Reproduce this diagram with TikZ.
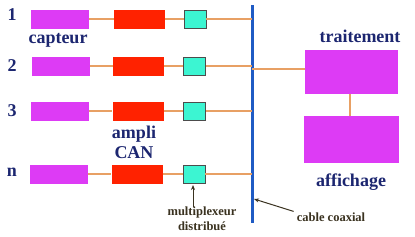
\documentclass[tikz,border=0pt]{standalone}
\usepackage{fontspec}
\setmainfont{Liberation Serif}
\usetikzlibrary{arrows.meta}
\definecolor{cpurple}{HTML}{DD3BF5}
\definecolor{cred}{HTML}{FF2200}
\definecolor{ccyan}{HTML}{3CF5D2}
\definecolor{cline}{HTML}{E8A064}
\definecolor{ccable}{HTML}{1F5BC4}
\definecolor{cnavy}{HTML}{1C2670}
\definecolor{cbrown}{HTML}{3A3220}
\tikzset{
  capt/.style={fill=cpurple,draw=none,minimum width=58pt,minimum height=19pt,inner sep=0pt},
  amp/.style={fill=cred,draw=none,minimum width=51pt,minimum height=19pt,inner sep=0pt},
  mux/.style={fill=ccyan,draw=black!70,line width=0.6pt,minimum width=22pt,minimum height=18pt,inner sep=0pt},
  big/.style={fill=cpurple,draw=none,minimum width=93pt,inner sep=0pt},
  wire/.style={draw=cline,line width=1.3pt},
  lab/.style={text=cnavy,font=\fontsize{18}{19}\selectfont\bfseries,inner sep=0pt},
  slab/.style={text=cbrown,font=\fontsize{12.5}{15}\selectfont\bfseries,inner sep=0pt,align=center},
  ptr/.style={draw=cbrown,line width=1pt,-{Stealth[length=5pt,width=4pt]}}
}
\begin{document}
\begin{tikzpicture}[x=1pt,y=-1pt]
\useasboundingbox[fill=white] (0,0) rectangle (415,236);
% cable
\coordinate (ct) at (252,5);
\coordinate (cb) at (252,223);
\draw[ccable,line width=3pt] (ct) -- (cb);
% rows
\foreach \i/\y/\px/\rx/\mx in {1/19/60/139.5/195, 2/66/61/138.5/194.5, 3/111/60/138/194.5, 4/174/58.5/137/194}{
  \node[capt] (p\i) at (\px,\y) {};
  \node[amp] (r\i) at (\rx,\y) {};
  \node[mux] (m\i) at (\mx,\y) {};
  \coordinate (k\i) at (252,\y);
  \draw[wire] (p\i.east) -- (r\i.west);
  \draw[wire] (r\i.east) -- (m\i.west);
  \draw[wire] (m\i.east) -- (k\i);
}
% right boxes
\node[big,minimum height=44pt] (tr) at (351.5,72) {};
\node[big,minimum height=47pt,minimum width=95pt] (af) at (351.5,139.5) {};
\coordinate (k0) at (252,69);
\draw[wire] (k0) -- (tr.west|-k0);
\draw[wire] (tr.south-|350,0) -- (af.north-|350,0);
% labels
\node[lab] (l1) at (12,15) {1};
\node[lab] (l2) at (12,66) {2};
\node[lab] (l3) at (12,111) {3};
\node[lab] (ln) at (12,172) {n};
\node[lab] (lc) at (58,40) {capteur};
\node[lab] (la) at (134,134) {ampli};
\node[lab] (lcan) at (134,153) {CAN};
\node[lab] (lt) at (360,36) {traitement};
\node[lab] (lf) at (351,182) {affichage};
\node[slab] (lm) at (202,219) {multiplexeur\\distribué};
\node[slab] (lx) at (331,217) {cable coaxial};
\coordinate (am) at (193,185);
\coordinate (ax) at (254,199);
\draw[ptr] (lm.north-|am) -- (am);
\draw[ptr] (lx.north west) ++(-3,-1) -- (ax);
\end{tikzpicture}
\end{document}
